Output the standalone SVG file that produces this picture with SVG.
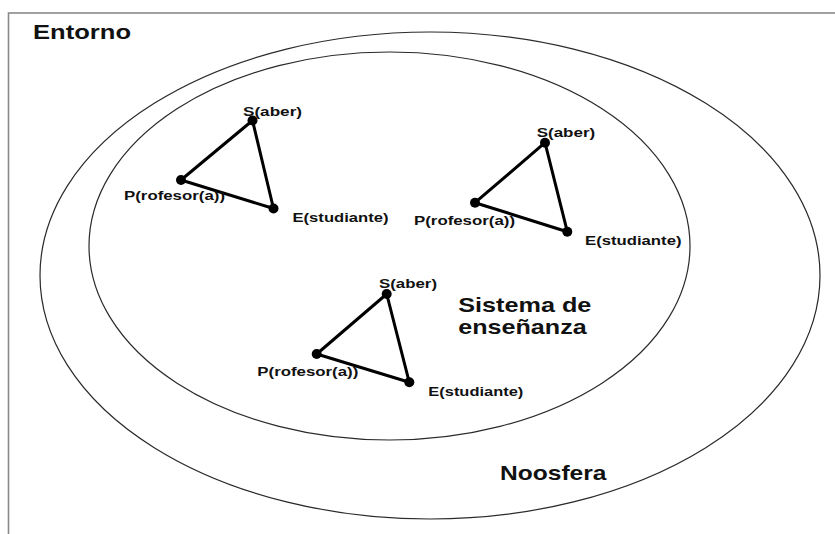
<svg xmlns="http://www.w3.org/2000/svg" width="835" height="534" viewBox="0 0 835 534">
  <style>
    .frame { fill: none; stroke: #8a8a8a; stroke-width: 1.6; }
    .region { fill: none; stroke: #2a2a2a; stroke-width: 1.2; }
    .edge { stroke: #000; stroke-width: 3; stroke-linecap: round; }
    .dot { fill: #000; }
    .big { font-family: "Liberation Sans", Arial, sans-serif; font-weight: bold; font-size: 21px; fill: #111; }
    .lbl { font-family: "Liberation Sans", Arial, sans-serif; font-weight: bold; font-size: 13.5px; fill: #111; }
  </style>
  <rect width="835" height="534" fill="#fff"/>
  <g id="entorno">
    <rect class="frame" x="8.5" y="13" width="900" height="600"/>
    <text class="big" x="33" y="38.5" textLength="98" lengthAdjust="spacingAndGlyphs">Entorno</text>
  </g>
  <g id="noosfera">
    <ellipse class="region" cx="430" cy="275.5" rx="390" ry="243.5"/>
    <text class="big" x="500" y="480" textLength="106.5" lengthAdjust="spacingAndGlyphs">Noosfera</text>
  </g>
  <g id="sistema">
    <ellipse class="region" cx="389.5" cy="246" rx="300.5" ry="194"/>
    <text class="big" x="458.3" y="311.7" textLength="133" lengthAdjust="spacingAndGlyphs">Sistema de</text>
    <text class="big" x="458.3" y="333.5" textLength="128.4" lengthAdjust="spacingAndGlyphs">enseñanza</text>
  </g>
  <g id="connectors">
    <line class="edge" x1="252.5" y1="120.5" x2="181" y2="180"/>
    <line class="edge" x1="181" y1="180" x2="273.5" y2="208.5"/>
    <line class="edge" x1="273.5" y1="208.5" x2="252.5" y2="120.5"/>
    <line class="edge" x1="545" y1="142.7" x2="475" y2="202.7"/>
    <line class="edge" x1="475" y1="202.7" x2="567.3" y2="231.7"/>
    <line class="edge" x1="567.3" y1="231.7" x2="545" y2="142.7"/>
    <line class="edge" x1="386.7" y1="294" x2="316.7" y2="354"/>
    <line class="edge" x1="316.7" y1="354" x2="409.3" y2="382.3"/>
    <line class="edge" x1="409.3" y1="382.3" x2="386.7" y2="294"/>
  </g>
  <g id="s1">
    <circle class="dot" cx="252.5" cy="120.5" r="5"/>
    <text class="lbl" x="243" y="115.5" textLength="59" lengthAdjust="spacingAndGlyphs">S(aber)</text>
  </g>
  <g id="p1">
    <circle class="dot" cx="181" cy="180" r="5"/>
    <text class="lbl" x="124" y="200" textLength="101" lengthAdjust="spacingAndGlyphs">P(rofesor(a))</text>
  </g>
  <g id="e1">
    <circle class="dot" cx="273.5" cy="208.5" r="5"/>
    <text class="lbl" x="292.5" y="221.5" textLength="96" lengthAdjust="spacingAndGlyphs">E(studiante)</text>
  </g>
  <g id="s2">
    <circle class="dot" cx="545" cy="142.7" r="5"/>
    <text class="lbl" x="536.7" y="137" textLength="58.5" lengthAdjust="spacingAndGlyphs">S(aber)</text>
  </g>
  <g id="p2">
    <circle class="dot" cx="475" cy="202.7" r="5"/>
    <text class="lbl" x="414" y="225" textLength="101" lengthAdjust="spacingAndGlyphs">P(rofesor(a))</text>
  </g>
  <g id="e2">
    <circle class="dot" cx="567.3" cy="231.7" r="5"/>
    <text class="lbl" x="585" y="245" textLength="96.5" lengthAdjust="spacingAndGlyphs">E(studiante)</text>
  </g>
  <g id="s3">
    <circle class="dot" cx="386.7" cy="294" r="5"/>
    <text class="lbl" x="379" y="288" textLength="58" lengthAdjust="spacingAndGlyphs">S(aber)</text>
  </g>
  <g id="p3">
    <circle class="dot" cx="316.7" cy="354" r="5"/>
    <text class="lbl" x="257.3" y="376" textLength="101" lengthAdjust="spacingAndGlyphs">P(rofesor(a))</text>
  </g>
  <g id="e3">
    <circle class="dot" cx="409.3" cy="382.3" r="5"/>
    <text class="lbl" x="428.3" y="396" textLength="95" lengthAdjust="spacingAndGlyphs">E(studiante)</text>
  </g>
</svg>
